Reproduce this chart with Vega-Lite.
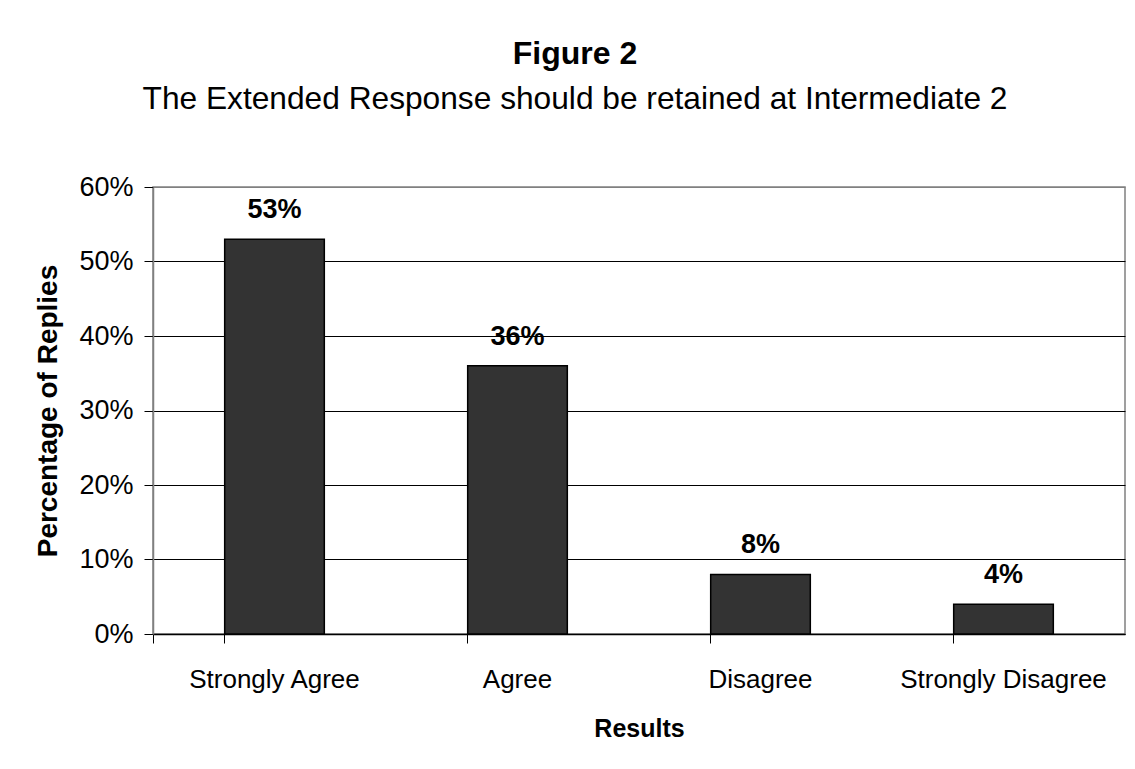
{
  "$schema": "https://vega.github.io/schema/vega-lite/v6.json",
  "autosize": {"type": "none"},
  "width": 972,
  "height": 447,
  "padding": {"left": 153, "top": 187, "right": 10, "bottom": 135},
  "background": "white",
  "config": {
    "font": "Liberation Sans",
    "view": {"stroke": "#808080", "strokeWidth": 1.5}
  },
  "title": {
    "text": "Figure 2",
    "subtitle": "The Extended Response should be retained at Intermediate 2",
    "anchor": "middle",
    "frame": "group",
    "dx": -64,
    "offset": 56,
    "font": "Liberation Sans",
    "fontSize": 32,
    "fontWeight": "bold",
    "color": "black",
    "subtitleFont": "Liberation Sans",
    "subtitleFontSize": 31.7,
    "subtitleColor": "black",
    "subtitlePadding": 13
  },
  "data": {
    "values": [
      {"result": "Strongly Agree", "pct": 0.53},
      {"result": "Agree", "pct": 0.36},
      {"result": "Disagree", "pct": 0.08},
      {"result": "Strongly Disagree", "pct": 0.04}
    ]
  },
  "encoding": {
    "x": {
      "field": "result",
      "type": "nominal",
      "sort": null,
      "scale": {"paddingInner": 0.59, "paddingOuter": 0.295},
      "axis": {
        "title": "Results",
        "titleFont": "Liberation Sans",
        "titleFontSize": 25,
        "titleFontWeight": "bold",
        "titleColor": "black",
        "titlePadding": 24,
        "labelAngle": 0,
        "labelFont": "Liberation Sans",
        "labelFontSize": 26,
        "labelColor": "black",
        "labelPadding": 23,
        "labelLimit": 0,
        "ticks": true,
        "bandPosition": 0,
        "tickExtra": true,
        "tickSize": 9,
        "tickColor": "black",
        "tickWidth": 1,
        "tickOpacity": 1,
        "domainColor": "black",
        "domainWidth": 1.5,
        "grid": false
      }
    },
    "y": {
      "field": "pct",
      "type": "quantitative",
      "scale": {"domain": [0, 0.6], "nice": false},
      "axis": {
        "title": "Percentage of Replies",
        "titleFont": "Liberation Sans",
        "titleFontSize": 28,
        "titleFontWeight": "bold",
        "titleColor": "black",
        "titlePadding": 16,
        "values": [0, 0.1, 0.2, 0.3, 0.4, 0.5, 0.6],
        "format": ".0%",
        "labelFont": "Liberation Sans",
        "labelFontSize": 27,
        "labelColor": "black",
        "labelPadding": 11,
        "tickSize": 9,
        "tickColor": "black",
        "tickWidth": 1,
        "domainColor": "#808080",
        "domainWidth": 1.5,
        "grid": true,
        "gridColor": {"condition": {"test": "datum.value >= 0.6", "value": "#808080"}, "value": "black"},
        "gridWidth": 1
      }
    }
  },
  "layer": [
    {
      "mark": {"type": "bar", "fill": "#333333", "stroke": "black", "strokeWidth": 1.5}
    },
    {
      "mark": {
        "type": "text",
        "baseline": "alphabetic",
        "dy": -21,
        "font": "Liberation Sans",
        "fontSize": 27,
        "fontWeight": "bold",
        "color": "black"
      },
      "encoding": {
        "text": {"field": "pct", "type": "quantitative", "format": ".0%"}
      }
    }
  ]
}
